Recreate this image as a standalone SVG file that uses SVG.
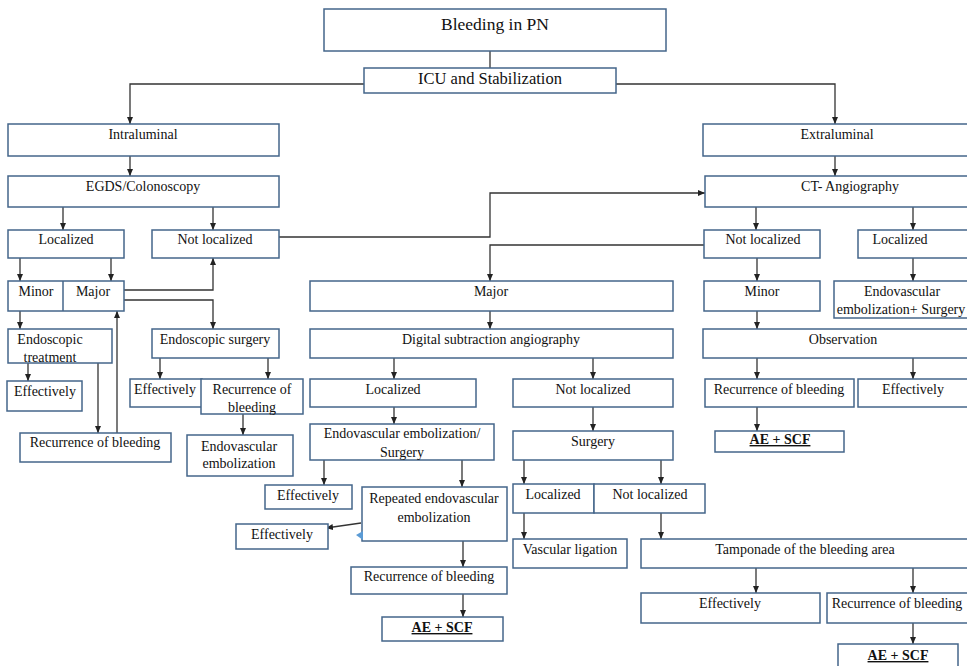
<svg xmlns="http://www.w3.org/2000/svg" width="967" height="666" viewBox="0 0 967 666">
<defs>
<marker id="ah" markerUnits="userSpaceOnUse" markerWidth="8" markerHeight="7" refX="7" refY="3" orient="auto">
<path d="M0,0 L7,3 L0,6 z" fill="#222"/>
</marker>
<style>
.b rect{fill:#fff;stroke:#44668a;stroke-width:1.5}
.b line{stroke:#44668a;stroke-width:1.5}
text{font-family:"Liberation Serif","Times New Roman",serif;font-size:14px;fill:#111;text-anchor:middle}
.ae{font-weight:bold;text-decoration:underline}
#connectors path{fill:none;stroke:#333;stroke-width:1.3}
#connectors .a{marker-end:url(#ah)}
</style>
</defs>
<rect width="967" height="666" fill="#fff"/>
<g id="connectors">
<path d="M490,51 V68"/>
<path class="a" d="M364,84 H130 V124"/>
<path class="a" d="M616,84 H835 V124"/>
<path class="a" d="M130,156 V176"/>
<path class="a" d="M63,207 V230"/>
<path class="a" d="M213,207 V230"/>
<path class="a" d="M279,237 H490 V193 H705"/>
<path class="a" d="M835,156 V176"/>
<path class="a" d="M756,207 V230"/>
<path class="a" d="M913,207 V230"/>
<path class="a" d="M704,245 H490 V281"/>
<path class="a" d="M20,258 V281"/>
<path class="a" d="M111,258 V281"/>
<path class="a" d="M124,290 H213 V258"/>
<path class="a" d="M124,300 H213 V329"/>
<path class="a" d="M20,311 V329"/>
<path class="a" d="M28,363 V381"/>
<path class="a" d="M98,362 V433"/>
<path class="a" d="M117,433 V311"/>
<path class="a" d="M160,358 V379"/>
<path class="a" d="M268,358 V379"/>
<path class="a" d="M243,412 V435"/>
<path class="a" d="M490,311 V329"/>
<path class="a" d="M394,358 V379"/>
<path class="a" d="M593,358 V379"/>
<path class="a" d="M394,407 V424"/>
<path class="a" d="M593,407 V431"/>
<path class="a" d="M324,460 V485"/>
<path class="a" d="M462,460 V487"/>
<path class="a" d="M361,523 L326,528"/>
<path class="a" d="M463,541 V567"/>
<path class="a" d="M463,594 V617"/>
<path class="a" d="M524,460 V484"/>
<path class="a" d="M661,460 V484"/>
<path class="a" d="M524,513 V539"/>
<path class="a" d="M661,513 V539"/>
<path class="a" d="M756,568 V593"/>
<path class="a" d="M913,568 V593"/>
<path class="a" d="M913,623 V644"/>
<path class="a" d="M757,258 V281"/>
<path class="a" d="M913,258 V281"/>
<path class="a" d="M757,311 V329"/>
<path class="a" d="M757,358 V379"/>
<path class="a" d="M913,358 V379"/>
<path class="a" d="M757,407 V431"/>
</g>
<g id="n-bleeding" class="b"><rect x="324" y="9" width="342" height="42"/><text x="495" y="30" style="font-size:17.5px">Bleeding in PN</text></g>
<g id="n-icu" class="b"><rect x="364" y="68" width="252" height="25"/><text x="490" y="84" style="font-size:16.5px">ICU and Stabilization</text></g>
<g id="n-intra" class="b"><rect x="8" y="124" width="271" height="32"/><text x="143" y="139">Intraluminal</text></g>
<g id="n-egds" class="b"><rect x="8" y="176" width="271" height="31"/><text x="143" y="191">EGDS/Colonoscopy</text></g>
<g id="n-extra" class="b"><rect x="703" y="124" width="272" height="32"/><text x="837" y="139">Extraluminal</text></g>
<g id="n-ct" class="b"><rect x="705" y="176" width="270" height="31"/><text x="850" y="191">CT- Angiography</text></g>
<g id="n-loc1" class="b"><rect x="8" y="230" width="116" height="28"/><text x="66" y="244">Localized</text></g>
<g id="n-notloc1" class="b"><rect x="152" y="230" width="127" height="28"/><text x="215" y="244">Not localized</text></g>
<g id="n-minmaj" class="b"><rect x="8" y="281" width="116" height="30"/><line x1="63" y1="281" x2="63" y2="311"/><text x="36" y="296">Minor</text><text x="93" y="296">Major</text></g>
<g id="n-endotr" class="b"><rect x="8" y="329" width="104" height="34"/><text x="50" y="344">Endoscopic</text><text x="50" y="362">treatment</text></g>
<g id="n-eff1" class="b"><rect x="7" y="381" width="75" height="30"/><text x="45" y="396">Effectively</text></g>
<g id="n-rec1" class="b"><rect x="20" y="433" width="151" height="29"/><text x="95" y="447">Recurrence of bleeding</text></g>
<g id="n-endosurg" class="b"><rect x="152" y="329" width="127" height="29"/><text x="215" y="344">Endoscopic surgery</text></g>
<g id="n-eff2" class="b"><rect x="130" y="379" width="72" height="28"/><text x="165" y="394">Effectively</text></g>
<g id="n-rec2" class="b"><rect x="201" y="379" width="102" height="35"/><text x="252" y="394">Recurrence of</text><text x="252" y="412">bleeding</text></g>
<g id="n-endovasc1" class="b"><rect x="187" y="435" width="106" height="41"/><text x="239" y="451">Endovascular</text><text x="239" y="468">embolization</text></g>
<g id="n-major2" class="b"><rect x="310" y="281" width="363" height="30"/><text x="491" y="296">Major</text></g>
<g id="n-dsa" class="b"><rect x="310" y="329" width="363" height="29"/><text x="491" y="344">Digital subtraction angiography</text></g>
<g id="n-loc2" class="b"><rect x="310" y="379" width="166" height="28"/><text x="393" y="394">Localized</text></g>
<g id="n-notloc2" class="b"><rect x="513" y="379" width="160" height="28"/><text x="593" y="394">Not localized</text></g>
<g id="n-evs" class="b"><rect x="310" y="424" width="184" height="36"/><text x="402" y="438">Endovascular embolization/</text><text x="402" y="457">Surgery</text></g>
<g id="n-surg" class="b"><rect x="513" y="431" width="160" height="29"/><text x="593" y="446">Surgery</text></g>
<g id="n-eff3" class="b"><rect x="265" y="485" width="87" height="24"/><text x="308" y="500">Effectively</text></g>
<g id="n-rep" class="b"><rect x="362" y="487" width="145" height="54"/><text x="434" y="503">Repeated endovascular</text><text x="434" y="522">embolization</text></g>
<polygon points="363,531 363,540 356,535" fill="#5b9bd5"/>
<g id="n-eff4" class="b"><rect x="236" y="524" width="92" height="25"/><text x="282" y="539">Effectively</text></g>
<g id="n-rec3" class="b"><rect x="351" y="567" width="156" height="27"/><text x="429" y="581">Recurrence of bleeding</text></g>
<g id="n-ae3" class="b"><rect x="382" y="617" width="121" height="24"/><text class="ae" x="442" y="632">AE + SCF</text></g>
<g id="n-loc4" class="b"><rect x="513" y="484" width="81" height="29"/><text x="553" y="499">Localized</text></g>
<g id="n-notloc4" class="b"><rect x="594" y="484" width="111" height="29"/><text x="650" y="499">Not localized</text></g>
<g id="n-vasc" class="b"><rect x="513" y="539" width="114" height="29"/><text x="570" y="554">Vascular ligation</text></g>
<g id="n-tamp" class="b"><rect x="641" y="539" width="334" height="29"/><text x="805" y="554">Tamponade of the bleeding area</text></g>
<g id="n-eff5" class="b"><rect x="641" y="593" width="179" height="30"/><text x="730" y="608">Effectively</text></g>
<g id="n-rec5" class="b"><rect x="827" y="593" width="148" height="30"/><text x="897" y="608">Recurrence of bleeding</text></g>
<g id="n-ae5" class="b"><rect x="838" y="644" width="120" height="30"/><text class="ae" x="898" y="660">AE + SCF</text></g>
<g id="n-notloc-ct" class="b"><rect x="704" y="230" width="116" height="28"/><text x="763" y="244">Not localized</text></g>
<g id="n-loc-ct" class="b"><rect x="858" y="230" width="117" height="28"/><text x="900" y="244">Localized</text></g>
<g id="n-minor-ct" class="b"><rect x="704" y="281" width="116" height="30"/><text x="762" y="296">Minor</text></g>
<g id="n-evs-ct" class="b"><rect x="834" y="281" width="141" height="37"/><text x="902" y="296">Endovascular</text><text x="901" y="314">embolization+ Surgery</text></g>
<g id="n-obs" class="b"><rect x="703" y="329" width="272" height="29"/><text x="843" y="344">Observation</text></g>
<g id="n-rec-ct" class="b"><rect x="705" y="379" width="149" height="28"/><text x="779" y="394">Recurrence of bleeding</text></g>
<g id="n-eff-ct" class="b"><rect x="858" y="379" width="117" height="28"/><text x="913" y="394">Effectively</text></g>
<g id="n-ae-ct" class="b"><rect x="715" y="431" width="129" height="21"/><text class="ae" x="780" y="444">AE + SCF</text></g>
</svg>
